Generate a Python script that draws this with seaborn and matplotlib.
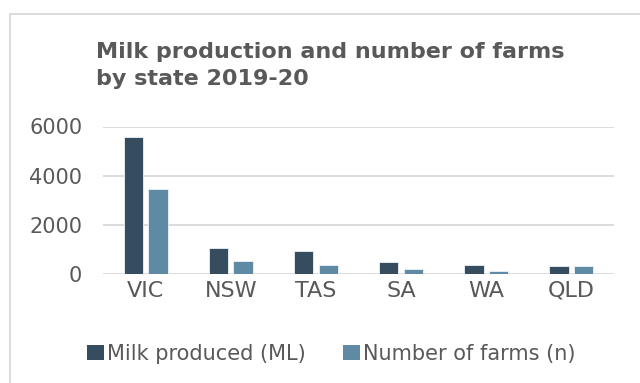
import matplotlib
matplotlib.use("Agg")
import matplotlib.pyplot as plt
from matplotlib.patches import Rectangle, Patch
import seaborn as sns
import pandas as pd

# Milk production (ML) and number of dairy farms by state, 2019-20
states = ["VIC", "NSW", "TAS", "SA", "WA", "QLD"]
milk_ml = [5590, 1040, 940, 480, 355, 315]
farms_n = [3440, 535, 385, 205, 135, 335]
series_names = ["Milk produced (ML)", "Number of farms (n)"]
y_ticks = [0, 2000, 4000, 6000]
title_lines = ["Milk production and number of farms", "by state 2019-20"]

df = pd.DataFrame({
    "state": states * 2,
    "value": milk_ml + farms_n,
    "series": [series_names[0]] * len(states) + [series_names[1]] * len(states),
})

sns.set_theme(style="white")
plt.rcParams["font.family"] = ["DejaVu Sans"]

text_col = "#595959"
grid_col = "#d9d9d9"
palette = {series_names[0]: "#354d5e", series_names[1]: "#5f8aa6"}

fig = plt.figure(figsize=(6.4, 3.83), dpi=100)
fig.patch.set_facecolor("white")

# Chart frame
fig.patches.append(Rectangle((10 / 640, -0.1), 1.2, 1 - 13.5 / 383 + 0.1,
                             transform=fig.transFigure, fill=False,
                             edgecolor=grid_col, linewidth=1.3, zorder=0))

ax = fig.add_axes([103 / 640, 1 - 274 / 383, (614 - 103) / 640, (274 - 126.5) / 383])
sns.barplot(data=df, x="state", y="value", hue="series", palette=palette,
            width=0.58, gap=0.215, ax=ax, legend=False,
            edgecolor="#eef2f5", linewidth=0.6, saturation=1)

ax.set_ylim(0, 6000)
ax.set_yticks(y_ticks)
ax.set_yticklabels([str(t) for t in y_ticks])
ax.set_xlim(-0.5, len(states) - 0.5)
ax.set_xlabel("")
ax.set_ylabel("")
for s in ax.spines.values():
    s.set_visible(False)
ax.yaxis.grid(True, color=grid_col, linewidth=1.3)
ax.set_axisbelow(True)
ax.tick_params(axis="y", length=0, pad=15, labelsize=15, labelcolor=text_col)
ax.tick_params(axis="x", length=0, pad=5, labelsize=16, labelcolor=text_col)

# Two-line title
for i, line in enumerate(title_lines):
    fig.text(96 / 640, 1 - (58 + 27 * i) / 383, line,
             fontsize=16, fontweight="bold", color=text_col,
             ha="left", va="baseline")

handles = [Patch(facecolor=palette[n], edgecolor="none") for n in series_names]
fig.legend(handles, series_names, loc="center", bbox_to_anchor=(331 / 640, 1 - 354 / 383),
           ncol=2, frameon=False, fontsize=15, labelcolor=text_col,
           handlelength=0.8, handleheight=0.7, handletextpad=0.15, columnspacing=1.8,
           borderpad=0, borderaxespad=0)

fig.savefig("out.png", dpi=100, facecolor="white")
